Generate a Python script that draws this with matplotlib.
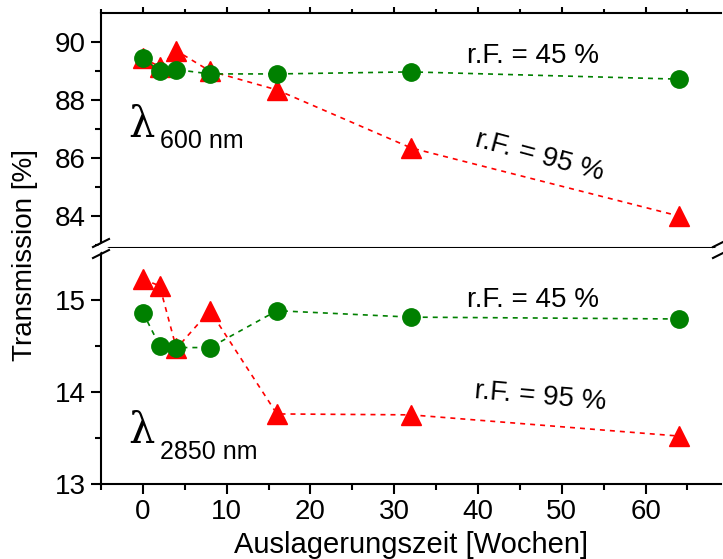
import matplotlib
matplotlib.use("Agg")
import matplotlib.pyplot as plt
from matplotlib.lines import Line2D

plt.rcParams['font.family'] = ['Liberation Sans', 'DejaVu Sans']
plt.rcParams['font.size'] = 20

# Auslagerungszeit in Wochen
weeks = [0, 2, 4, 8, 16, 32, 64]

# Transmission bei 600 nm
t600_45 = [89.45, 89.0, 89.05, 88.9, 88.9, 88.97, 88.72]
t600_95 = [89.45, 89.15, 89.7, 89.0, 88.35, 86.35, 84.0]

# Transmission bei 2850 nm
t2850_45 = [14.86, 14.5, 14.48, 14.48, 14.88, 14.81, 14.79]
t2850_95 = [15.22, 15.15, 14.47, 14.88, 13.76, 13.75, 13.52]

green = '#008000'
red = '#ff0000'

W, H = 723, 559
fig = plt.figure(figsize=(W / 100, H / 100), dpi=100)

left, right = 101 / W, 721 / W
top_y, mid_y, bot_y = 1 - 13 / H, 1 - 248 / H, 1 - 484 / H
ax1 = fig.add_axes([left, mid_y, right - left, top_y - mid_y])
ax2 = fig.add_axes([left, bot_y, right - left, mid_y - bot_y], sharex=ax1)


def draw(ax, y45, y95):
    ax.plot(weeks, y95, ls=(0, (3, 3)), color=red, lw=1.2,
            marker='^', ms=14, mec=red, mfc=red, zorder=3)
    ax.plot(weeks, y45, ls=(0, (3, 3)), color=green, lw=1.2,
            marker='o', ms=12.5, mec=green, mfc=green, zorder=4)


draw(ax1, t600_45, t600_95)
draw(ax2, t2850_45, t2850_95)

ax1.set_xlim(-5, 69)
ax1.set_ylim(82.9, 91)
ax2.set_ylim(13, 15.56)

ax1.set_yticks([84, 86, 88, 90])
ax1.set_yticks([83, 85, 87, 89], minor=True)
ax2.set_yticks([13, 14, 15])
ax2.set_yticks([13.5, 14.5], minor=True)
ax2.set_xticks([0, 10, 20, 30, 40, 50, 60])
ax2.set_xticks([-5, 5, 15, 25, 35, 45, 55, 65], minor=True)

for ax in (ax1, ax2):
    ax.spines['right'].set_visible(False)
    for s in ax.spines.values():
        s.set_linewidth(1.5)
    ax.tick_params(which='major', direction='out', length=7, width=1.5, pad=4)
    ax.tick_params(which='minor', direction='out', length=4, width=1.5)

ax2.spines['top'].set_visible(False)
ax1.tick_params(axis='x', which='both', bottom=False, labelbottom=False,
                top=True, direction='out')
ax1.tick_params(axis='x', which='major', length=4)
ax1.tick_params(axis='x', which='minor', length=3)

ax2.set_xlabel('Auslagerungszeit [Wochen]', labelpad=4, fontsize=21)
fig.text(25 / W, 1 - 255 / H, 'Transmission [%]', rotation=90,
         ha='center', va='center', fontsize=20)

# Beschriftungen
ax1.text(46.6, 89.52, 'r.F. = 45 %', ha='center', va='center', fontsize=20)
ax1.text(47.4, 86.07, 'r.F. = 95 %', ha='center', va='center', fontsize=20,
         rotation=-15)
ax2.text(46.6, 15.0, 'r.F. = 45 %', ha='center', va='center', fontsize=20)
ax2.text(47.4, 13.95, 'r.F. = 95 %', ha='center', va='center', fontsize=20,
         rotation=-5)

ax1.text(-1.8, 87.15, 'λ', ha='left', va='center', fontsize=30,
         family=['DejaVu Serif'])
ax1.text(2.0, 86.6, '600 nm', ha='left', va='center', fontsize=18)
ax2.text(-1.8, 13.57, 'λ', ha='left', va='center', fontsize=30,
         family=['DejaVu Serif'])
ax2.text(2.0, 13.35, '2850 nm', ha='left', va='center', fontsize=18)

# Achsenbruch-Markierungen
for bx in (101, 721):
    fig.add_artist(Line2D([(bx - 3) / W, (bx + 3) / W],
                          [1 - 250 / H, 1 - 246 / H],
                          color='white', lw=5, transform=fig.transFigure))
    for by in (243, 254):
        fig.add_artist(Line2D([(bx - 8) / W, (bx + 8) / W],
                              [1 - (by + 4) / H, 1 - (by - 4) / H],
                              color='black', lw=1.5,
                              transform=fig.transFigure))

fig.savefig('out.png', dpi=100)
